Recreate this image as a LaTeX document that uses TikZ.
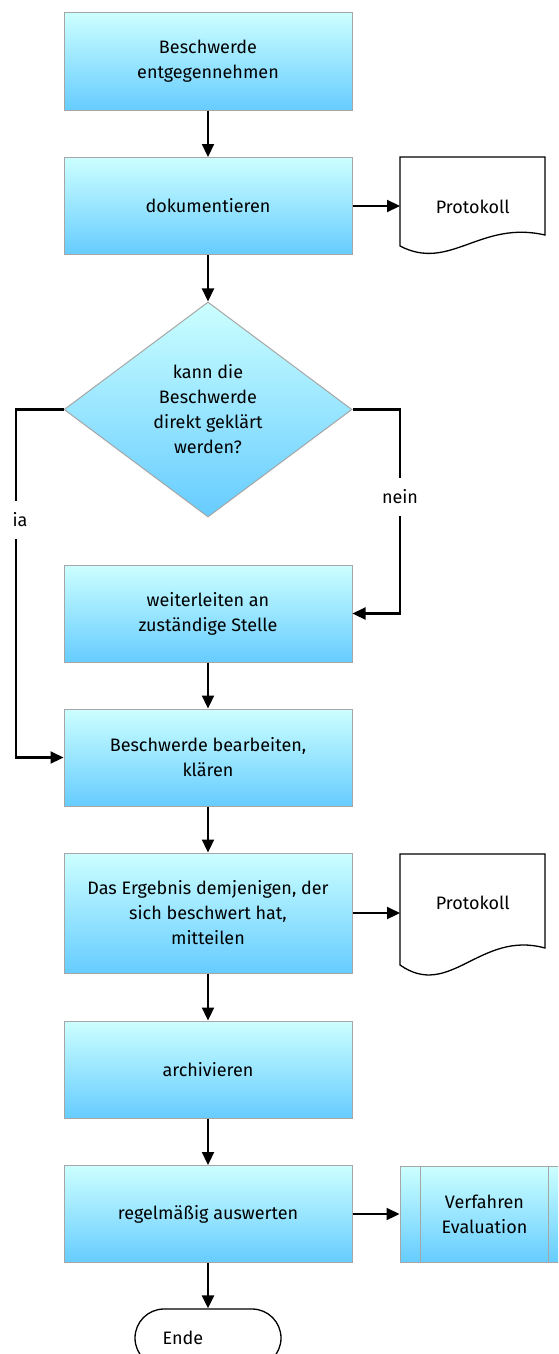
\documentclass[tikz,border=0pt]{standalone}
\usepackage{fontspec}
\setmainfont{Fira Sans}
\usetikzlibrary{shapes.geometric,shapes.misc,arrows.meta}
\definecolor{topc}{RGB}{204,255,255}
\definecolor{botc}{RGB}{102,204,255}
\definecolor{edgec}{RGB}{166,166,166}
\begin{document}
\begin{tikzpicture}[x=1pt,y=1pt,
  fs/.style={font=\fontsize{18}{25}\selectfont},
  shade/.style={draw=edgec, line width=1pt, top color=topc, bottom color=botc},
  proc/.style={fs, shade, rectangle, minimum width=288pt, minimum height=97pt, align=center, inner sep=0pt},
  dec/.style={fs, shade, diamond, aspect=1.34, minimum width=288pt, minimum height=215pt, align=center, inner sep=0pt},
  docnode/.style={fs, rectangle, anchor=north west, minimum width=145pt, inner sep=0pt},
  docline/.style={draw=black, line width=1.3pt, fill=white},
  arr/.style={line width=2.2pt, -{Triangle[length=13pt,width=12pt]}},
  lab/.style={fs, fill=white, inner xsep=1pt, inner ysep=12pt},
  term/.style={fs, rounded rectangle, draw=black, line width=1.3pt, minimum width=146pt, minimum height=58pt, inner sep=0pt}
]
\useasboundingbox (0,0) rectangle (558,-1354);
\clip (0,0) rectangle (558,-1354);

% process boxes
\node[proc] (b1) at (208,-61.5) {Beschwerde\\entgegennehmen};
\node[proc] (b2) at (208,-206) {dokumentieren};
\node[dec]  (d)  at (208,-409.5) {kann die\\Beschwerde\\direkt geklärt\\werden?};
\node[proc] (b3) at (208,-613.5) {weiterleiten an\\zuständige Stelle};
\node[proc] (b4) at (208,-757.5) {Beschwerde bearbeiten,\\klären};
\node[proc, minimum height=120pt] (b5) at (208,-913) {Das Ergebnis demjenigen, der\\sich beschwert hat,\\mitteilen};
\node[proc] (b6) at (208,-1069.5) {archivieren};
\node[proc] (b7) at (208,-1214) {regelmäßig auswerten};

% documents
\draw[docline] (400,-157) -- (545,-157) -- (545,-235) .. controls (480,-220) and (450,-272) .. (400,-246) -- cycle;
\node[docnode, minimum height=100pt] (p1) at (400,-157) {Protokoll};
\draw[docline] (400,-854) -- (545,-854) -- (545,-948) .. controls (480,-930) and (450,-1000) .. (400,-965) -- cycle;
\node[docnode, minimum height=98pt] (p2) at (400,-854) {Protokoll};

% predefined process
\node[fs, shade, rectangle, minimum width=169pt, minimum height=96pt, align=center, inner sep=0pt] (pp) at (484.5,-1214) {Verfahren\\Evaluation};
\draw[edgec, line width=1pt] ([xshift=21pt]pp.north west) -- ([xshift=21pt]pp.south west);
\draw[edgec, line width=1pt] ([xshift=-21pt]pp.north east) -- ([xshift=-21pt]pp.south east);

% terminator
\node[term] (end) at (208,-1338) {Ende\hspace*{50pt}};

% connectors
\draw[arr] (b1) -- (b2);
\draw[arr] (b2) -- (d);
\draw[arr] (b2.east) -- (b2.east -| p1.west);
\draw[arr] (b3) -- (b4);
\draw[arr] (b4) -- (b5);
\draw[arr] (b5.east) -- (b5.east -| p2.west);
\draw[arr] (b5) -- (b6);
\draw[arr] (b6) -- (b7);
\draw[arr] (b7.east) -- (pp.west);
\draw[arr] (b7) -- (end);

\coordinate (jL) at (16,-409.5);
\coordinate (nR) at (400,-409.5);
\draw[arr] (d.west) -- (jL) |- (b4.west);
\draw[arr] (d.east) -- (nR) |- (b3.east);
\node[lab] (ja) at (20,-520) {ia};
\node[lab] (nein) at (400,-497) {nein};
\end{tikzpicture}
\end{document}
